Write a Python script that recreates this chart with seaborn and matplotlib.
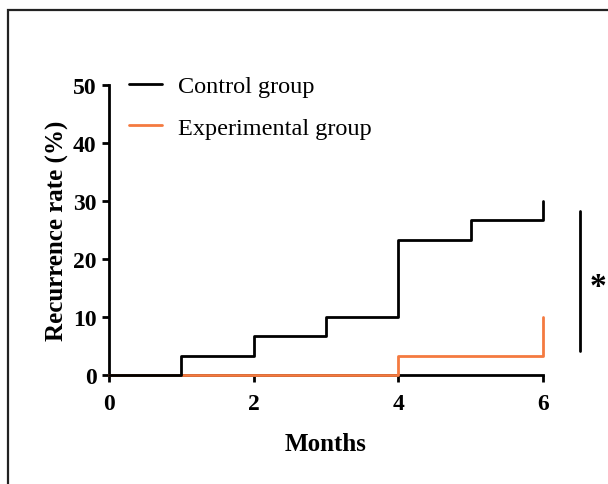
import numpy as np
import pandas as pd
import matplotlib
matplotlib.use("Agg")
import matplotlib.pyplot as plt
import seaborn as sns
from matplotlib.patches import Rectangle

# step data (cumulative recurrence, %)
control_months = [0, 1, 2, 3, 4, 5, 6, 6]
control_rate = [0, 3.33, 6.67, 10, 23.33, 26.67, 26.67, 30]
exp_months = [0, 4, 6, 6]
exp_rate = [0, 3.33, 3.33, 10]
groups = ["Control group", "Experimental group"]
colors = ["black", "#F47A40"]
x_ticks = [0, 2, 4, 6]
y_ticks = [0, 10, 20, 30, 40, 50]

df = pd.concat([
    pd.DataFrame({"Months": control_months, "Rate": control_rate, "Group": groups[0]}),
    pd.DataFrame({"Months": exp_months, "Rate": exp_rate, "Group": groups[1]}),
], ignore_index=True)

sns.set_style("ticks", {"axes.edgecolor": "black", "text.color": "black",
                        "xtick.color": "black", "ytick.color": "black",
                        "axes.labelcolor": "black"})
plt.rcParams["font.family"] = ["Liberation Serif", "DejaVu Serif"]

fig = plt.figure(figsize=(6.08, 4.85), dpi=100)
ax = fig.add_axes([109 / 608, 1 - 376 / 485, 434 / 608, 290 / 485])

sns.lineplot(data=df, x="Months", y="Rate", hue="Group", hue_order=groups,
             palette=colors, estimator=None, sort=False, drawstyle="steps-post",
             linewidth=2.0, ax=ax, legend=True)
ax.lines[0].set_zorder(4)
ax.lines[1].set_zorder(3)
for ln in ax.lines:
    ln.set_clip_on(False)

ax.set_xlim(0, 6)
ax.set_ylim(0, 50)
ax.set_xticks(x_ticks)
ax.set_yticks(y_ticks)
sns.despine(ax=ax)
for s in ["left", "bottom"]:
    ax.spines[s].set_linewidth(2.0)
ax.tick_params(width=2.0, length=5, labelsize=17)
ax.tick_params(axis="x", pad=8)
ax.tick_params(axis="y", pad=4)
for lab in ax.get_xticklabels() + ax.get_yticklabels():
    lab.set_fontweight("bold")
ax.set_xlabel("Months", fontsize=18, fontweight="bold", labelpad=13)
ax.set_ylabel("Recurrence rate (%)", fontsize=18, fontweight="bold", labelpad=3)

leg = ax.legend(loc="upper left", bbox_to_anchor=(0.018, 1.075), frameon=False,
                fontsize=17.5, handlelength=1.35, handletextpad=0.65, labelspacing=0.8,
                borderpad=0)
for h in leg.get_lines():
    h.set_linewidth(2.0)

# significance bracket
ax.plot([6.51, 6.51], [4.1, 28.3], color="black", lw=2.0, clip_on=False)
ax.text(6.76, 15.2, "*", fontsize=24, fontweight="bold", ha="center", va="center")

# outer frame
fig.patches.append(Rectangle((8 / 608, -0.1), 1.2, 1 - 11 / 485 + 0.1,
                             transform=fig.transFigure, fill=False,
                             edgecolor="#222222", linewidth=1.6))

fig.savefig("out.png", dpi=100)
